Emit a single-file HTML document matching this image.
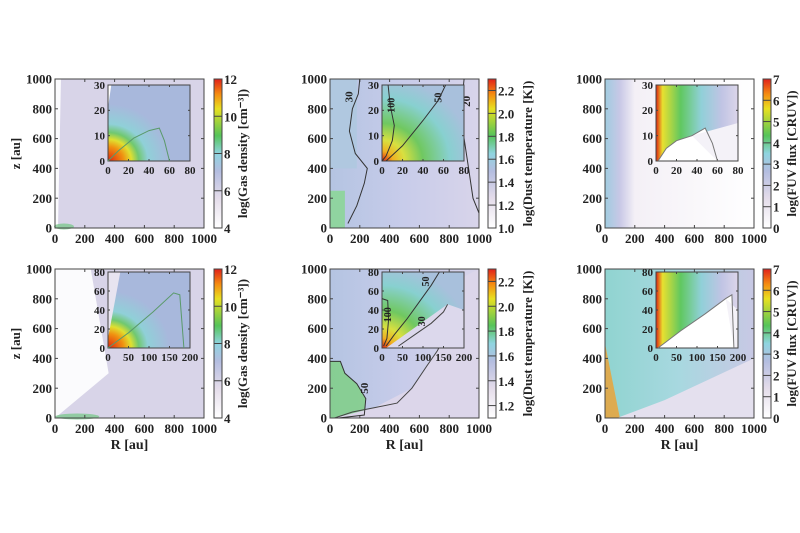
<!DOCTYPE html>
<html><head><meta charset="utf-8"><style>
body{margin:0;background:#fff;}
svg{display:block;font-family:"Liberation Serif",serif;}
</style></head><body>
<svg id="fig" width="800" height="533" viewBox="0 0 800 533">
<defs>
<linearGradient id="cbar" x1="0" y1="1" x2="0" y2="0">
<stop offset="0" stop-color="#ffffff"/><stop offset="0.2" stop-color="#e4dcea"/><stop offset="0.38" stop-color="#b4bde0"/>
<stop offset="0.5" stop-color="#8fd4e0"/><stop offset="0.62" stop-color="#56c45a"/><stop offset="0.8" stop-color="#e8e020"/>
<stop offset="0.9" stop-color="#f58a10"/><stop offset="1" stop-color="#e0201a"/></linearGradient>
<radialGradient id="gasIn" cx="0" cy="1" r="0.75"><stop offset="0" stop-color="#e02010"/><stop offset="0.25" stop-color="#f09010"/><stop offset="0.38" stop-color="#e0e030"/><stop offset="0.5" stop-color="#70c870"/><stop offset="0.65" stop-color="#90d0d8"/><stop offset="1" stop-color="#a8b8dc"/></radialGradient>
<radialGradient id="dustIn" cx="0" cy="1" r="1.1"><stop offset="0" stop-color="#e02010"/><stop offset="0.12" stop-color="#f0b020"/><stop offset="0.25" stop-color="#d8e040"/><stop offset="0.45" stop-color="#70c860"/><stop offset="0.75" stop-color="#88d0d0"/><stop offset="1" stop-color="#a8c0dc"/></radialGradient>
<linearGradient id="fuvIn" x1="0" y1="0" x2="1" y2="0"><stop offset="0" stop-color="#e02010"/><stop offset="0.08" stop-color="#e8e030"/><stop offset="0.3" stop-color="#60c860"/><stop offset="0.55" stop-color="#90d0d8"/><stop offset="0.8" stop-color="#c0c4e4"/><stop offset="1" stop-color="#dcd6ea"/></linearGradient>
<linearGradient id="mainDust" x1="0" y1="0" x2="1" y2="0"><stop offset="0" stop-color="#b4c4e2"/><stop offset="0.5" stop-color="#c8ccea"/><stop offset="1" stop-color="#d8d4ea"/></linearGradient>
<linearGradient id="mainFuv" x1="0" y1="0" x2="1" y2="0"><stop offset="0" stop-color="#a0cce0"/><stop offset="0.1" stop-color="#c8c8e6"/><stop offset="0.2" stop-color="#f4f0f6"/><stop offset="1" stop-color="#ffffff"/></linearGradient>
<linearGradient id="mainFuv2" x1="0" y1="0" x2="1" y2="0"><stop offset="0" stop-color="#90d4d0"/><stop offset="0.5" stop-color="#a8d8e0"/><stop offset="1" stop-color="#c8c8e4"/></linearGradient>
</defs>
</svg>
<script>
// axis data
const mainTicks = [0,200,400,600,800,1000];
const insetXTop = [0,20,40,60,80];
const insetYTop = [0,10,20,30];
const insetXBot = [0,50,100,150,200];
const insetYBot = [0,20,40,60,80];
const gasTicks = [4,6,8,10,12];
const dustTopTicks = [1.0,1.2,1.4,1.6,1.8,2.0,2.2];
const dustBotTicks = [1.2,1.4,1.6,1.8,2.0,2.2];
const fuvTicks = [0,1,2,3,4,5,6,7];
// contour data (data coords)
const dustTopMain30 = [[200,1000],[190,900],[150,800],[130,650],[170,500],[250,400],[230,300],[180,150],[120,30]];
const dustTopMain20 = [[900,1000],[880,800],[900,600],[930,400],[960,200],[1000,100]];
const dustTopIn100 = [[6,30],[8,22],[12,14],[10,8],[4,2],[0,0]];
const dustTopIn50 = [[4,0],[20,6],[40,16],[55,24],[62,30]];
const dustBotMain50 = [[0,380],[70,380],[100,300],[180,230],[240,130],[230,20],[60,0]];
const dustBotMain30 = [[30,0],[150,40],[300,70],[450,100],[550,200],[650,350],[720,450],[800,600],[850,750],[900,950]];
const dustBotIn100 = [[0,52],[14,50],[16,30],[12,10],[4,2]];
const dustBotIn50 = [[10,2],[30,14],[60,30],[90,48],[120,66],[140,80]];
const dustBotIn30 = [[40,2],[80,14],[120,26],[150,38],[160,46]];
const gasTopInC = [[0,0],[10,4],[25,9],[40,12],[50,13],[55,8],[60,0]];
const gasBotInC = [[0,0],[50,16],[110,38],[160,58],[175,56],[185,0]];
const fuvTopInC = [[2,0],[10,5],[20,8],[35,10],[48,13],[55,7],[60,0]];
const fuvBotInC = [[5,0],[60,18],[120,36],[170,52],[185,56],[190,0]];

const NS="http://www.w3.org/2000/svg";
const svg=document.getElementById('fig');
function mk(tag,attrs,parent){const e=document.createElementNS(NS,tag);for(const k in attrs)e.setAttribute(k,attrs[k]);(parent||svg).appendChild(e);return e;}
function txt(x,y,s,size,anchor,parent,rot){const t=mk('text',{x:x,y:y,'font-size':size,'text-anchor':anchor||'middle','font-weight':'bold',fill:'#222'},parent);if(rot)t.setAttribute('transform','rotate(-90 '+x+' '+y+')');t.textContent=s;return t;}
function poly(pts,sx,sy,col,w,parent){const d=pts.map((p,i)=>(i?'L':'M')+sx(p[0]).toFixed(1)+','+sy(p[1]).toFixed(1)).join('');return mk('path',{d:d,fill:'none',stroke:col,'stroke-width':w||1},parent);}
function frame(x0,y0,w,h,xt,yt,xmax,ymax,fs,parent,ticklen){
  const g=mk('g',{},parent);
  mk('rect',{x:x0,y:y0,width:w,height:h,fill:'none',stroke:'#444','stroke-width':1},g);
  const sx=v=>x0+v/xmax*w, sy=v=>y0+h-v/ymax*h;
  xt.forEach(v=>{mk('line',{x1:sx(v),x2:sx(v),y1:y0+h,y2:y0+h-ticklen,stroke:'#444'},g);mk('line',{x1:sx(v),x2:sx(v),y1:y0,y2:y0+ticklen,stroke:'#444'},g);txt(sx(v),y0+h+fs+2,String(v),fs,'middle',g);});
  yt.forEach(v=>{mk('line',{x1:x0,x2:x0+ticklen,y1:sy(v),y2:sy(v),stroke:'#444'},g);mk('line',{x1:x0+w,x2:x0+w-ticklen,y1:sy(v),y2:sy(v),stroke:'#444'},g);txt(x0-3,sy(v)+fs*0.35,String(v),fs,'end',g);});
  return {sx,sy,g};
}
const cols=[{mx:55,cb:214,ix:108},{mx:330,cb:488,ix:382},{mx:605,cb:763,ix:656}];
const rows=[{my:79,iy:85,ih:76},{my:269,iy:272,ih:76}];
const MW=149,MH=149,IW=82;
const labels=['log(Gas density [cm\u207B\u00B3])','log(Dust temperature [K])','log(FUV flux [CRUV])'];

for(let r=0;r<2;r++)for(let c=0;c<3;c++){
  const C=cols[c],R=rows[r];
  const panel=mk('g',{});
  
  
  let fill=c==0?'#d8d4e8':(c==1?'url(#mainDust)':(r?'url(#mainFuv2)':'url(#mainFuv)'));
  const bg=mk('rect',{x:C.mx,y:R.my,width:MW,height:MH,fill:fill},panel);
  
  
  const msx=v=>C.mx+v/1000*MW, msy=v=>R.my+MH-v/1000*MH;
  if(c==0){mk('path',{d:`M${msx(0)},${msy(1000)}L${msx(r?240:40)},${msy(1000)}L${msx(r?360:20)},${msy(r?300:0)}L${msx(0)},${msy(0)}Z`,fill:'#fbfbfd'},panel);
    mk('ellipse',{cx:msx(r?150:60),cy:msy(10),rx:r?22:10,ry:3,fill:'#80c890',opacity:0.8},panel);}
  if(c==1&&r==1){mk('path',{d:`M${msx(0)},${msy(380)}L${msx(70)},${msy(380)}L${msx(100)},${msy(300)}L${msx(180)},${msy(230)}L${msx(240)},${msy(130)}L${msx(230)},${msy(20)}L${msx(0)},${msy(0)}Z`,fill:'#7cd080',opacity:0.8},panel);
    mk('path',{d:`M${msx(30)},${msy(0)}L${msx(300)},${msy(70)}L${msx(550)},${msy(200)}L${msx(720)},${msy(450)}L${msx(900)},${msy(950)}L${msx(1000)},${msy(1000)}L${msx(1000)},${msy(0)}Z`,fill:'#dcd6ea'},panel);}
  if(c==1&&r==0){mk('rect',{x:msx(0),y:msy(1000),width:MW*0.18,height:MH*0.6,fill:'#b0c8e0'},panel);mk('rect',{x:msx(0),y:msy(250),width:MW*0.1,height:MH*0.25,fill:'#90d4a0'},panel);}
  if(c==2&&r==1){mk('path',{d:`M${msx(0)},${msy(500)}L${msx(100)},${msy(0)}L${msx(0)},${msy(0)}Z`,fill:'#f0a030',opacity:0.8},panel);
    mk('path',{d:`M${msx(80)},${msy(0)}L${msx(400)},${msy(120)}L${msx(1000)},${msy(400)}L${msx(1000)},${msy(0)}Z`,fill:'#e4e0ee'},panel);}
  const mf=frame(C.mx,R.my,MW,MH,mainTicks,mainTicks,1000,1000,13,panel,3);
  if(c==1&&r==0){poly(dustTopMain30,mf.sx,mf.sy,'#333',1,panel);poly(dustTopMain20,mf.sx,mf.sy,'#333',1,panel);
    txt(mf.sx(150),mf.sy(880),'30',11,'middle',panel,true);txt(mf.sx(940),mf.sy(850),'20',11,'middle',panel,true);}
  if(c==1&&r==1){poly(dustBotMain50,mf.sx,mf.sy,'#333',1,panel);poly(dustBotMain30,mf.sx,mf.sy,'#444',1,panel);txt(mf.sx(255),mf.sy(200),'50',11,'middle',panel,true);}
  const xt=r?insetXBot:insetXTop, yt=r?insetYBot:insetYTop, xm=r?200:80, ym=r?80:30;
  const ifill=c==0?'url(#gasIn)':(c==1?'url(#dustIn)':'url(#fuvIn)');
  const ib=mk('rect',{x:C.ix,y:R.iy,width:IW,height:R.ih,fill:ifill},panel);
  
  
  const isx=v=>C.ix+v/xm*IW, isy=v=>R.iy+R.ih-v/ym*R.ih;
  if(c==0){mk('path',{d:`M${isx(0)},${isy(ym)}L${isx(xm*0.04)},${isy(ym)}L${isx(0)},${isy(ym*0.7)}Z`,fill:'#fff'},panel);
    if(r)mk('path',{d:`M${isx(0)},${isy(80)}L${isx(30)},${isy(80)}L${isx(0)},${isy(10)}Z`,fill:'#e8e4f0'},panel);}
  if(c==2){const ct=r?fuvBotInC:fuvTopInC;const d='M'+ct.map(p=>isx(p[0])+','+isy(p[1])).join('L')+'Z';mk('path',{d:d,fill:'#fff'},panel);
    mk('path',{d:`M${isx(ct[3][0])},${isy(ct[3][1])}L${isx(xm)},${isy(ym*0.5)}L${isx(xm)},${isy(0)}L${isx(ct[ct.length-1][0])},${isy(0)}Z`,fill:'#f4f2f8'},panel);}
  if(c==1&&r==1){mk('path',{d:`M${isx(10)},${isy(0)}L${isx(160)},${isy(46)}L${isx(200)},${isy(40)}L${isx(200)},${isy(0)}Z`,fill:'#dcd8ec'},panel);}
  const inf=frame(C.ix,R.iy,IW,R.ih,xt,yt,xm,ym,11,panel,2);
  if(c==0)poly(r?gasBotInC:gasTopInC,inf.sx,inf.sy,'#5a9a6a',1,panel);
  if(c==2)poly(r?fuvBotInC:fuvTopInC,inf.sx,inf.sy,'#777',1,panel);
  if(c==1&&r==0){poly(dustTopIn100,inf.sx,inf.sy,'#333',1,panel);poly(dustTopIn50,inf.sx,inf.sy,'#333',1,panel);
    txt(inf.sx(12),inf.sy(22),'100',10,'middle',panel,true);txt(inf.sx(58),inf.sy(25),'50',10,'middle',panel,true);}
  if(c==1&&r==1){poly(dustBotIn100,inf.sx,inf.sy,'#333',1,panel);poly(dustBotIn50,inf.sx,inf.sy,'#333',1,panel);poly(dustBotIn30,inf.sx,inf.sy,'#444',1,panel);
    txt(inf.sx(22),inf.sy(35),'100',10,'middle',panel,true);txt(inf.sx(115),inf.sy(70),'50',10,'middle',panel,true);txt(inf.sx(105),inf.sy(28),'30',10,'middle',panel,true);}
  const cbg=mk('g',{},panel);
  
  
  mk('rect',{x:C.cb,y:R.my,width:8,height:MH,fill:'url(#cbar)',stroke:'#444','stroke-width':1},cbg);
  const ticks=c==0?gasTicks:(c==2?fuvTicks:(r?dustBotTicks:dustTopTicks));
  const lo=c==0?4:(c==2?0:(r?1.1:1.0)), hi=c==0?12:(c==2?7:2.3);
  ticks.forEach(v=>{const y=R.my+MH-(v-lo)/(hi-lo)*MH;mk('line',{x1:C.cb,x2:C.cb+8,y1:y,y2:y,stroke:'#444'},cbg);
    txt(C.cb+10,y+5,c==1?v.toFixed(1):String(v),13,'start',cbg);});
  const cl=txt(C.cb+(c==1?44:33),R.my+MH/2,labels[c],13,'middle',cbg,true);
  
  
  if(c==0){const yl=txt(20,R.my+MH/2,'z [au]',13,'middle',panel,true);}
  if(r==1){const xl=txt(C.mx+MW/2,R.my+MH+31,'R [au]',14,'middle',panel);}
}
</script>
</body></html>
